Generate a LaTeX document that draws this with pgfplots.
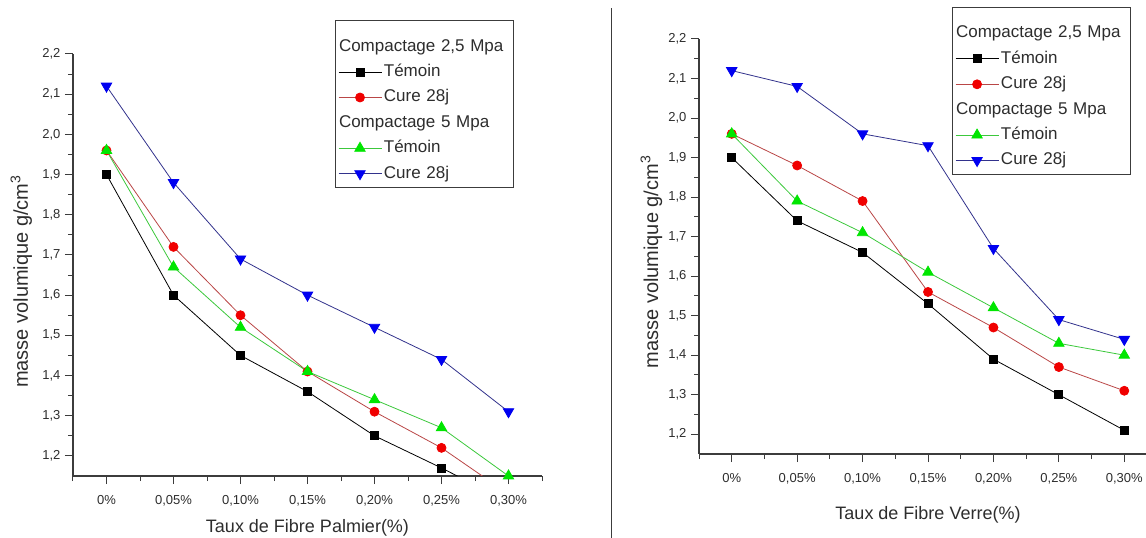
\documentclass[border=0pt]{standalone}
\usepackage{fontspec}
\setmainfont{Liberation Sans}
\usepackage{pgfplots}
\pgfplotsset{compat=1.18}
\definecolor{axisgray}{RGB}{60,60,60}
\definecolor{textgray}{RGB}{45,45,45}
\definecolor{redline}{RGB}{185,70,70}
\definecolor{redmark}{RGB}{240,0,0}
\definecolor{greenline}{RGB}{60,200,60}
\definecolor{greenmark}{RGB}{0,230,0}
\definecolor{blueline}{RGB}{50,50,140}
\definecolor{bluemark}{RGB}{0,0,240}
\pgfplotsset{
  densstyle/.style={
    scale only axis, anchor=south west,
    xmin=-0.5, xmax=6.5, ymin=1.15, ymax=2.2,
    axis x line*=bottom, axis y line*=left,
    axis line style={line width=1.1pt, color=axisgray},
    xtick={0,1,2,3,4,5,6},
    xticklabels={0\%,{0,05\%},{0,10\%},{0,15\%},{0,20\%},{0,25\%},{0,30\%}},
    minor xtick={-0.5,0.5,1.5,2.5,3.5,4.5,5.5,6.5},
    ytick={1.2,1.3,1.4,1.5,1.6,1.7,1.8,1.9,2.0,2.1,2.2},
    yticklabels={{1,2},{1,3},{1,4},{1,5},{1,6},{1,7},{1,8},{1,9},{2,0},{2,1},{2,2}},
    minor ytick={1.25,1.35,1.45,1.55,1.65,1.75,1.85,1.95,2.05,2.15},
    tick align=outside, major tick length=8pt, minor tick length=5pt,
    tick style={line width=1pt, color=axisgray},
    tick label style={font=\fontsize{13}{15}\selectfont, color=textgray},
    xticklabel style={yshift=-8pt},
    yticklabel style={xshift=-1pt},
    legend cell align=left,
    legend image code/.code={\draw[mark repeat=2,mark phase=2,#1] plot coordinates {(0pt,0pt) (21.5pt,0pt) (43pt,0pt)};},
    legend style={draw=axisgray, line width=1pt, font=\fontsize{17}{20}\selectfont, text=textgray,
      anchor=north west, row sep=0pt, inner xsep=3pt, inner ysep=1pt,
      nodes={text height=12.5pt, text depth=3.5pt, inner ysep=4.7pt, inner xsep=2pt, text width=125pt}},
  },
  s1/.style={color=black, line width=0.8pt, mark=square*, mark size=4pt, mark options={solid}},
  s2/.style={color=redline, line width=0.8pt, mark=*, mark size=4.5pt, mark options={fill=redmark, draw=redmark}},
  s3/.style={color=greenline, line width=0.8pt, mark=triangle*, mark size=6pt, mark options={fill=greenmark, draw=greenmark}},
  s4/.style={color=blueline, line width=0.8pt, mark=triangle*, mark size=6pt, mark options={fill=bluemark, draw=bluemark, rotate=180}},
  hdr/.style={legend image code/.code={\node[overlay, anchor=west, inner sep=0pt, text width=200pt] at (0pt,0pt) {#1};}},
  hdrtop/.style={legend image code/.code={\path[draw=none,fill=none] (0pt,0pt) -- (0pt,25pt);\node[overlay, anchor=west, inner sep=0pt, text width=200pt] at (0pt,0pt) {#1};}},
}
\begin{document}
\begin{tikzpicture}[x=1pt,y=1pt]
\path[use as bounding box] (0,0) rectangle (1146,538);
\draw[axisgray, line width=1.3pt] (611.7,0) -- (611.7,530);
% ---------- left ----------
\begin{axis}[densstyle, at={(73pt,62pt)}, width=469pt, height=422pt,
  xlabel={Taux de Fibre Palmier(\%)},
  ylabel={masse volumique g/cm\textsuperscript{3}},
  every axis x label/.style={at={(axis description cs:0.5,-0.135)}, anchor=base, font=\fontsize{18}{21}\selectfont, text=textgray},
  every axis y label/.style={at={(axis description cs:-0.096,0.461)}, rotate=90, anchor=base, font=\fontsize{20}{24}\selectfont, text=textgray},
  legend style={at={(axis description cs:0.5578,1.0801)}},
]
\addlegendimage{hdrtop={Compactage 2,5 Mpa}}\addlegendentry{}
\addplot[s1] coordinates {(0,1.90) (1,1.60) (2,1.45) (3,1.36) (4,1.25) (5,1.17) (6,1.085)};
\addlegendentry{Témoin}
\addplot[s2] coordinates {(0,1.96) (1,1.72) (2,1.55) (3,1.41) (4,1.31) (5,1.22) (6,1.105)};
\addlegendentry{Cure 28j}
\addlegendimage{hdr={Compactage 5 Mpa}}\addlegendentry{}
\addplot[s3] coordinates {(0,1.96) (1,1.67) (2,1.52) (3,1.41) (4,1.34) (5,1.27) (6,1.15)};
\addlegendentry{Témoin}
\addplot[s4] coordinates {(0,2.12) (1,1.88) (2,1.69) (3,1.60) (4,1.52) (5,1.44) (6,1.31)};
\addlegendentry{Cure 28j}
\node[anchor=base west, font=\fontsize{17}{20}\selectfont, text=textgray, inner sep=0pt] at (axis description cs:-0.0328,1.052) {densite a la beton de terre stabilise};
\end{axis}
% ---------- right ----------
\begin{axis}[densstyle, at={(699pt,84pt)}, width=458pt, height=415pt,
  xlabel={Taux de Fibre Verre(\%)},
  ylabel={masse volumique g/cm\textsuperscript{3}},
  every axis x label/.style={at={(axis description cs:0.5,-0.159)}, anchor=base, font=\fontsize{18}{21}\selectfont, text=textgray},
  every axis y label/.style={at={(axis description cs:-0.0895,0.4627)}, rotate=90, anchor=base, font=\fontsize{20}{24}\selectfont, text=textgray},
  legend style={at={(axis description cs:0.5517,1.0771)}},
]
\addlegendimage{hdrtop={Compactage 2,5 Mpa}}\addlegendentry{}
\addplot[s1] coordinates {(0,1.90) (1,1.74) (2,1.66) (3,1.53) (4,1.39) (5,1.30) (6,1.21)};
\addlegendentry{Témoin}
\addplot[s2] coordinates {(0,1.96) (1,1.88) (2,1.79) (3,1.56) (4,1.47) (5,1.37) (6,1.31)};
\addlegendentry{Cure 28j}
\addlegendimage{hdr={Compactage 5 Mpa}}\addlegendentry{}
\addplot[s3] coordinates {(0,1.96) (1,1.79) (2,1.71) (3,1.61) (4,1.52) (5,1.43) (6,1.40)};
\addlegendentry{Témoin}
\addplot[s4] coordinates {(0,2.12) (1,2.08) (2,1.96) (3,1.93) (4,1.67) (5,1.49) (6,1.44)};
\addlegendentry{Cure 28j}
\node[anchor=base west, font=\fontsize{17}{20}\selectfont, text=textgray, inner sep=0pt] at (axis description cs:-0.0524,1.034) {densite a la beton de terre stabilise};
\end{axis}
\end{tikzpicture}
\end{document}
